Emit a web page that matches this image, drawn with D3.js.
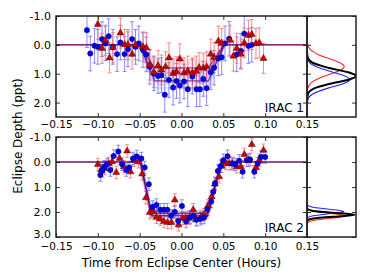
<!DOCTYPE html>
<html><head><meta charset="utf-8">
<script src="https://cdn.jsdelivr.net/npm/d3@7"></script>
<style>
body{margin:0;background:#fff}
svg{display:block}
text{font-family:"DejaVu Sans",sans-serif;fill:#000}
</style>
</head><body>
<svg id="chart" width="374" height="280"></svg>
<script>
// ---------------- data ----------------
const xTickValues = [-0.15, -0.10, -0.05, 0.00, 0.05, 0.10, 0.15];
const xTickLabels = ["\u22120.15", "\u22120.10", "\u22120.05", "0.00", "0.05", "0.10", "0.15"];
const yTickValues1 = [-1, 0, 1, 2];
const yTickLabels1 = ["-1.0", "0.0", "1.0", "2.0"];
const yTickValues2 = [-1, 0, 1, 2, 3];
const yTickLabels2 = ["-1.0", "0.0", "1.0", "2.0", "3.0"];
const panelNames = ["IRAC 1", "IRAC 2"];
const xAxisTitle = "Time from Eclipse Center (Hours)";
const yAxisTitle = "Eclipse Depth (ppt)";

// IRAC 1 – blue visit
const irac1BlueTime = [-0.113,-0.109,-0.104,-0.100,-0.095,-0.091,-0.087,-0.082,-0.077,-0.073,-0.068,-0.064,-0.059,-0.055,-0.051,-0.046,-0.042,-0.038,-0.033,-0.028,-0.024,-0.020,-0.015,-0.010,-0.006,-0.002,0.003,0.0075,0.013,0.018,0.022,0.026,0.030,0.035,0.039,0.044,0.048,0.052,0.057,0.066,0.071,0.075,0.080,0.084];
const irac1BlueDepth = [-0.51,0.30,0.03,0.07,-0.20,-0.05,-0.30,0.07,0.32,-0.08,0.32,0.15,-0.20,0.07,-0.05,0.18,0.33,0.76,0.99,1.08,1.05,1.73,1.22,1.48,1.25,1.41,1.27,1.54,1.10,1.54,1.54,1.18,1.50,0.95,0.79,0.47,0.43,-0.05,-0.21,0.33,0.21,-0.39,0.04,0.00];
const irac1BlueErr = 0.6;
// IRAC 1 – red visit
const irac1RedTime = [-0.100,-0.095,-0.091,-0.086,-0.082,-0.073,-0.068,-0.064,-0.059,-0.055,-0.046,-0.042,-0.038,-0.033,-0.028,-0.024,-0.019,-0.015,-0.010,-0.006,-0.002,0.003,0.0075,0.013,0.0175,0.021,0.026,0.030,0.035,0.039,0.044,0.048,0.058,0.062,0.066,0.071,0.075,0.080,0.084,0.089,0.093,0.098];
const irac1RedDepth = [-0.71,0.12,-0.16,0.45,0.10,-0.41,-0.01,-0.01,0.32,-0.01,0.07,0.10,0.70,0.95,0.72,0.87,0.76,0.45,0.99,0.93,0.49,0.97,0.91,0.97,0.91,0.79,0.81,0.76,0.32,0.44,-0.13,-0.05,-0.16,0.39,0.12,0.32,-0.07,-0.33,-0.36,-0.05,-0.07,0.47];
const irac1RedErr = 0.52;

// IRAC 2 – blue visit
const irac2BlueTime = [-0.097,-0.095,-0.092,-0.089,-0.085,-0.081,-0.0755,-0.071,-0.066,-0.0625,-0.058,-0.0535,-0.048,-0.044,-0.039,-0.0345,-0.030,-0.0255,-0.021,-0.017,-0.0125,-0.008,-0.004,0.0005,0.0055,0.010,0.014,0.018,0.023,0.027,0.031,0.0355,0.038,0.040,0.0435,0.0467,0.050,0.055,0.060,0.064,0.069,0.073,0.078,0.082,0.087,0.091,0.095,0.100];
const irac2BlueDepth = [0.52,0.35,0.19,0.10,0.32,-0.24,-0.42,0.09,0.32,0.22,-0.14,-0.22,-0.14,0.22,0.89,1.80,1.72,1.91,1.91,1.91,2.15,2.00,2.36,1.76,2.38,2.21,2.15,2.31,2.27,2.22,1.89,1.58,1.19,0.85,0.36,0.17,-0.07,-0.23,0.06,0.10,-0.05,0.39,-0.07,-0.10,0.39,0.06,-0.20,-0.20];
const irac2BlueErr = 0.25;
// IRAC 2 – red visit
const irac2RedTime = [-0.100,-0.096,-0.092,-0.087,-0.083,-0.078,-0.074,-0.069,-0.065,-0.061,-0.0565,-0.0515,-0.047,-0.0425,-0.038,-0.034,-0.030,-0.0255,-0.021,-0.0165,-0.012,-0.008,-0.0035,0.001,0.005,0.0095,0.014,0.018,0.023,0.027,0.0315,0.036,0.040,0.045,0.048,0.053,0.057,0.061,0.066,0.071,0.075,0.080,0.084,0.089,0.093,0.098];
const irac2RedDepth = [0.10,0.32,0.26,0.06,-0.01,0.42,-0.14,0.19,-0.44,0.39,-0.07,-0.01,0.48,1.43,2.02,1.95,2.21,2.28,2.38,2.42,2.42,1.52,2.51,2.25,2.25,2.25,1.91,2.30,2.21,2.11,1.76,1.39,0.88,0.59,0.17,0.06,0.06,0.06,0.19,0.19,-0.30,-0.07,-0.70,0.22,-0.07,-0.47];
const irac2RedErr = 0.25;

// eclipse model: contact times and depths (posterior spread)
const irac1Contacts = [-0.050, -0.032, 0.032, 0.051];
const irac1RedModelDepths = [0.55, 0.65, 0.75, 0.85, 0.95, 1.05];
const irac1BlueModelDepths = [0.95, 1.05, 1.15, 1.25, 1.35, 1.50];
const irac1BestDepths = [0.8, 1.25];
const irac2Contacts = [-0.049, -0.036, 0.031, 0.048];
const irac2RedModelDepths = [2.05, 2.12, 2.20, 2.28];
const irac2BlueModelDepths = [1.95, 2.02, 2.10, 2.18];
const irac2BestDepths = [2.15, 2.05];

// posterior distributions of depth (depth, relative density)
const irac1RedPostDepth = [-0.30,-0.06,0.08,0.21,0.35,0.48,0.62,0.75,0.89,1.02,1.16,1.29,1.43,1.56,1.80];
const irac1RedPostDens  = [0.00,0.008,0.033,0.103,0.247,0.461,0.671,0.76,0.671,0.461,0.247,0.103,0.033,0.008,0.00];
const irac1BluePostDepth = [0.20,0.50,0.70,0.90,1.05,1.20,1.35,1.50,1.70,1.90,2.20];
const irac1BluePostDens  = [0.00,0.018,0.119,0.43,0.735,0.88,0.735,0.43,0.119,0.018,0.00];
const irac1BlackPostDepth = [0.20,0.40,0.60,0.80,0.95,1.08,1.20,1.35,1.50,1.70,1.95];
const irac1BlackPostDens  = [0.00,0.008,0.093,0.446,0.84,1.00,0.86,0.47,0.16,0.02,0.00];
const irac2RedPostDepth = [1.70,1.85,1.95,2.04,2.10,2.15,2.20,2.26,2.35,2.45,2.60];
const irac2RedPostDens  = [0.00,0.009,0.105,0.43,0.69,0.78,0.69,0.43,0.105,0.009,0.00];
const irac2BluePostDepth = [1.55,1.70,1.80,1.88,1.93,1.98,2.03,2.08,2.16,2.26,2.40];
const irac2BluePostDens  = [0.00,0.006,0.10,0.41,0.64,0.75,0.64,0.41,0.10,0.006,0.00];
const irac2BlackPostDepth = [1.70,1.85,1.95,2.00,2.05,2.11,2.17,2.22,2.27,2.35,2.50];
const irac2BlackPostDens  = [0.00,0.002,0.10,0.33,0.70,0.97,0.70,0.33,0.10,0.006,0.00];

// ---------------- layout ----------------
const svg = d3.select("#chart");
const mainL = 56, mainR = 307, sideR = 356;
const panels = [
  {top: 16, bottom: 117, domain: [-1, 2.5], yt: yTickValues1, yl: yTickLabels1, name: panelNames[0], xPad: 4,
   series: [
     {t: irac1BlueTime, d: irac1BlueDepth, e: irac1BlueErr, kind: "blue"},
     {t: irac1RedTime, d: irac1RedDepth, e: irac1RedErr, kind: "red"}],
   contacts: irac1Contacts, redBand: irac1RedModelDepths, blueBand: irac1BlueModelDepths, best: irac1BestDepths,
   post: [
     {d: irac1RedPostDepth, p: irac1RedPostDens, c: "#ff2020", w: 1.1},
     {d: irac1BluePostDepth, p: irac1BluePostDens, c: "#2020ff", w: 1.1},
     {d: irac1BlackPostDepth, p: irac1BlackPostDens, c: "#000", w: 2}]},
  {top: 137, bottom: 237, domain: [-1, 3], yt: yTickValues2, yl: yTickLabels2, name: panelNames[1], xPad: 5.5,
   series: [
     {t: irac2RedTime, d: irac2RedDepth, e: irac2RedErr, kind: "red"},
     {t: irac2BlueTime, d: irac2BlueDepth, e: irac2BlueErr, kind: "blue"}],
   contacts: irac2Contacts, redBand: irac2RedModelDepths, blueBand: irac2BlueModelDepths, best: irac2BestDepths,
   post: [
     {d: irac2BluePostDepth, p: irac2BluePostDens, c: "#2020ff", w: 1.1},
     {d: irac2RedPostDepth, p: irac2RedPostDens, c: "#ff2020", w: 1.1},
     {d: irac2BlackPostDepth, p: irac2BlackPostDens, c: "#000", w: 2}]}
];

const x = d3.scaleLinear().domain([-0.15, 0.15]).range([mainL, mainR]);
const xs = d3.scaleLinear().domain([0, 1]).range([mainR, sideR]);
const style = {
  blue: {bar: "#6666ff", mark: "#0000ee", stroke: "#000066"},
  red:  {bar: "#ff6666", mark: "#cc0000", stroke: "#330000"}
};

panels.forEach((P, pi) => {
  const y = d3.scaleLinear().domain(P.domain).range([P.top, P.bottom]);
  const clipId = "clip" + pi, clipS = "clipS" + pi;
  svg.append("clipPath").attr("id", clipId).append("rect")
    .attr("x", mainL).attr("y", P.top).attr("width", mainR - mainL).attr("height", P.bottom - P.top);
  svg.append("clipPath").attr("id", clipS).append("rect")
    .attr("x", mainR).attr("y", P.top).attr("width", sideR - mainR).attr("height", P.bottom - P.top);

  const g = svg.append("g").attr("clip-path", `url(#${clipId})`);

  const fullModel = (c, depth) => [[-0.15, 0], [c[0], 0], [c[1], depth], [c[2], depth], [c[3], 0], [0.15, 0]];
  const eclModel = (c, depth) => [[c[0], 0], [c[1], depth], [c[2], depth], [c[3], 0]];
  const line = d3.line().x(p => x(p[0])).y(p => y(p[1]));

  // error bars
  P.series.forEach(S => {
    const st = style[S.kind];
    const eg = g.append("g").attr("stroke", st.bar).attr("stroke-opacity", 0.75).attr("stroke-width", 1);
    S.t.forEach((t, i) => {
      const cx = x(t), y0 = y(S.d[i] - S.e), y1 = y(S.d[i] + S.e);
      eg.append("line").attr("x1", cx).attr("x2", cx).attr("y1", y0).attr("y2", y1);
      eg.append("line").attr("x1", cx - 2).attr("x2", cx + 2).attr("y1", y0).attr("y2", y0);
      eg.append("line").attr("x1", cx - 2).attr("x2", cx + 2).attr("y1", y1).attr("y2", y1);
    });
  });

  // model posterior spread (in-eclipse part)
  P.redBand.forEach(dp => g.append("path").attr("d", line(eclModel(P.contacts, dp)))
    .attr("fill", "none").attr("stroke", "#ff3030").attr("stroke-opacity", 0.12).attr("stroke-width", 3));
  P.blueBand.forEach(dp => g.append("path").attr("d", line(eclModel(P.contacts, dp)))
    .attr("fill", "none").attr("stroke", "#3030ff").attr("stroke-opacity", 0.12).attr("stroke-width", 3));
  P.best.forEach(dp => g.append("path").attr("d", line(fullModel(P.contacts, dp)))
    .attr("fill", "none").attr("stroke", "#660066").attr("stroke-width", 0.9));

  // markers
  P.series.forEach(S => {
    const st = style[S.kind];
    if (S.kind === "blue") {
      g.append("g").selectAll("circle").data(S.t).join("circle")
        .attr("cx", t => x(t)).attr("cy", (t, i) => y(S.d[i])).attr("r", 2.7)
        .attr("fill", st.mark).attr("stroke", st.stroke).attr("stroke-width", 0.4);
    } else {
      const sym = d3.symbol().type(d3.symbolTriangle).size(22);
      g.append("g").selectAll("path").data(S.t).join("path")
        .attr("d", sym).attr("transform", (t, i) => `translate(${x(t)},${y(S.d[i])})`)
        .attr("fill", st.mark).attr("stroke", st.stroke).attr("stroke-width", 0.4);
    }
  });

  // panel label
  svg.append("text").attr("x", mainR - 3).attr("y", P.bottom - 5).attr("text-anchor", "end")
    .attr("font-size", 12).text(P.name);

  // axes
  const ax = svg.append("g").attr("transform", `translate(0,${P.bottom})`)
    .call(d3.axisBottom(x).tickValues(xTickValues).tickFormat((d, i) => xTickLabels[i]).tickSizeInner(-4).tickSizeOuter(0).tickPadding(P.xPad));
  const axT = svg.append("g").attr("transform", `translate(0,${P.top})`)
    .call(d3.axisTop(x).tickValues(xTickValues).tickFormat("").tickSizeInner(-4).tickSizeOuter(0));
  const ay = svg.append("g").attr("transform", `translate(${mainL},0)`)
    .call(d3.axisLeft(y).tickValues(P.yt).tickFormat((d, i) => P.yl[i]).tickSizeInner(-4).tickSizeOuter(0).tickPadding(5));
  const ayR = svg.append("g").attr("transform", `translate(${mainR},0)`)
    .call(d3.axisRight(y).tickValues(P.yt).tickFormat("").tickSizeInner(-4).tickSizeOuter(0));
  const sL = svg.append("g").attr("transform", `translate(${mainR},0)`)
    .call(d3.axisLeft(y).tickValues(P.yt).tickFormat("").tickSizeInner(-4).tickSizeOuter(0));
  const sR = svg.append("g").attr("transform", `translate(${sideR},0)`)
    .call(d3.axisRight(y).tickValues(P.yt).tickFormat("").tickSizeInner(-4).tickSizeOuter(0));
  [ax, axT, ay, ayR, sL, sR].forEach(a => {
    a.select(".domain").remove();
    a.selectAll("line").attr("stroke", "#000").attr("stroke-width", 0.8);
    a.selectAll("text").attr("font-size", 11).attr("font-family", "DejaVu Sans").attr("fill", "#000");
  });
  ax.selectAll("text").attr("font-size", 10.5);
  // keep the lowest y label clear of the x tick labels below it
  ay.selectAll(".tick text").filter(d => d === P.domain[1] && pi === 1).attr("y", -3);

  // posterior curves
  const gs = svg.append("g").attr("clip-path", `url(#${clipS})`);
  P.post.forEach(C => {
    const pts = C.d.map((dv, i) => [C.p[i], dv]);
    gs.append("path").attr("d", d3.line().x(p => xs(p[0])).y(p => y(p[1])).curve(d3.curveMonotoneY)(pts))
      .attr("fill", "none").attr("stroke", C.c).attr("stroke-width", C.w);
  });

  // frames
  svg.append("rect").attr("x", mainL).attr("y", P.top).attr("width", mainR - mainL).attr("height", P.bottom - P.top)
    .attr("fill", "none").attr("stroke", "#222").attr("stroke-width", 1.5);
  svg.append("rect").attr("x", mainR).attr("y", P.top).attr("width", sideR - mainR).attr("height", P.bottom - P.top)
    .attr("fill", "none").attr("stroke", "#222").attr("stroke-width", 1.5);
});

// axis titles
svg.append("text").attr("x", (mainL + mainR) / 2).attr("y", 266.5).attr("text-anchor", "middle")
  .attr("font-size", 12).text(xAxisTitle);
svg.append("text").attr("transform", "translate(22,136) rotate(-90)").attr("text-anchor", "middle")
  .attr("font-size", 12).text(yAxisTitle);
</script>
</body></html>
